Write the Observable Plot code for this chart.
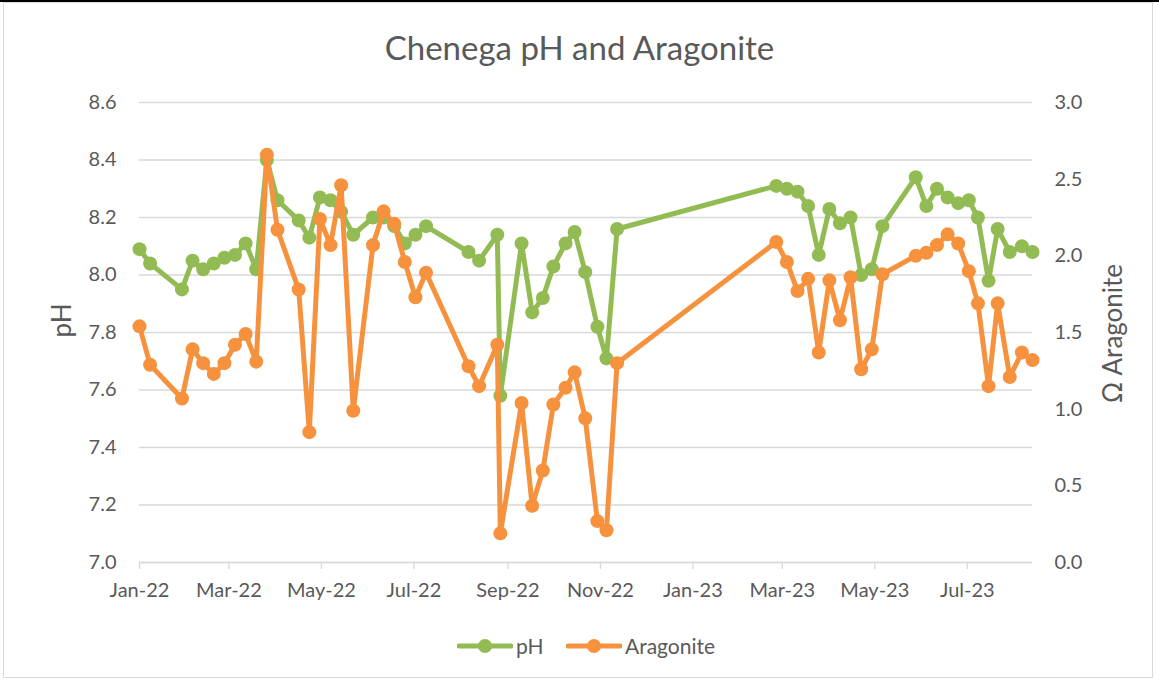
<!DOCTYPE html>
<html><head><meta charset="utf-8">
<script src="https://cdn.jsdelivr.net/npm/d3@7"></script>
<script src="https://cdn.jsdelivr.net/npm/@observablehq/plot@0.6"></script>
<style>
html,body{margin:0;padding:0;background:#fff;}
#frame{position:relative;width:1159px;height:683px;overflow:hidden;font-family:Lato,"Open Sans",sans-serif;color:#595959;}
#topline{position:absolute;left:0;top:0;width:1159px;height:2px;background:#000;}
#border{position:absolute;left:3px;top:2px;width:1150px;height:676px;border:1px solid #d9d9d9;box-sizing:border-box;pointer-events:none;}
#title{position:absolute;left:0;top:0;width:1159px;height:80px;box-sizing:border-box;padding-top:30px;text-align:center;font-size:33px;line-height:34px;color:#595959;}
#chart{position:absolute;left:0;top:80px;}
#legend{position:absolute;left:0;top:620px;width:1159px;height:63px;font-size:21px;}
.lg{position:absolute;top:13px;height:26px;line-height:26px;}
</style>
</head><body>
<div id="frame">
  <div id="topline"></div>
  <div id="border"></div>
  <div id="title">Chenega pH and Aragonite</div>
  <div id="chart"></div>
  <div id="legend"></div>
</div>
<script>
const dates = ["2022-01-01","2022-01-08","2022-01-29","2022-02-05","2022-02-12","2022-02-19","2022-02-26","2022-03-05","2022-03-12","2022-03-19",
"2022-03-26","2022-04-02","2022-04-16","2022-04-23","2022-04-30","2022-05-07","2022-05-14","2022-05-22","2022-06-04","2022-06-11",
"2022-06-18","2022-06-25","2022-07-02","2022-07-09","2022-08-06","2022-08-13","2022-08-25","2022-08-27","2022-09-10","2022-09-17",
"2022-09-24","2022-10-01","2022-10-09","2022-10-15","2022-10-22","2022-10-30","2022-11-05","2022-11-12","2023-02-25","2023-03-04",
"2023-03-11","2023-03-18","2023-03-25","2023-04-01","2023-04-08","2023-04-15","2023-04-22","2023-04-29","2023-05-06","2023-05-28",
"2023-06-04","2023-06-11","2023-06-18","2023-06-25","2023-07-02","2023-07-08","2023-07-15","2023-07-21","2023-07-29","2023-08-06","2023-08-13"];
const pH = [8.09,8.04,7.95,8.05,8.02,8.04,8.06,8.07,8.11,8.02,
8.40,8.26,8.19,8.13,8.27,8.26,8.22,8.14,8.20,8.20,
8.17,8.11,8.14,8.17,8.08,8.05,8.14,7.58,8.11,7.87,
7.92,8.03,8.11,8.15,8.01,7.82,7.71,8.16,8.31,8.30,
8.29,8.24,8.07,8.23,8.18,8.20,8.00,8.02,8.17,8.34,
8.24,8.30,8.27,8.25,8.26,8.20,7.98,8.16,8.08,8.10,8.08];
const aragonite = [1.54,1.29,1.07,1.39,1.30,1.23,1.30,1.42,1.49,1.31,
2.66,2.17,1.78,0.85,2.24,2.07,2.46,0.99,2.07,2.29,
2.21,1.96,1.73,1.89,1.28,1.15,1.42,0.19,1.04,0.37,
0.60,1.03,1.14,1.24,0.94,0.27,0.21,1.30,2.09,1.96,
1.77,1.85,1.37,1.84,1.58,1.86,1.26,1.39,1.88,2.00,
2.02,2.07,2.14,2.08,1.90,1.69,1.15,1.69,1.21,1.37,1.32];
const pHTicks = [7.0,7.2,7.4,7.6,7.8,8.0,8.2,8.4,8.6];
const arTicks = [0.0,0.5,1.0,1.5,2.0,2.5,3.0];
const xTickLabels = ["Jan-22","Mar-22","May-22","Jul-22","Sep-22","Nov-22","Jan-23","Mar-23","May-23","Jul-23"];
const seriesNames = ["pH","Aragonite"];
const colors = {pH:"#92BC53", Aragonite:"#F6923E"};

const parse = d3.utcParse("%Y-%m-%d");
const xDomain = [parse("2022-01-01"), parse("2023-08-13")];
const xTicks = xTickLabels.map(s => d3.utcParse("%b-%y")(s));
const pHmin = 7.0, pHmax = 8.6, arMax = 3.0;
const arToY = a => pHmin + a * (pHmax - pHmin) / arMax;
const yToAr = y => (y - pHmin) * arMax / (pHmax - pHmin);

const data = dates.map((d,i) => ({date: parse(d), ph: pH[i], ar: aragonite[i]}));

const font = "Lato, 'Open Sans', sans-serif";
const chart = Plot.plot({
  width: 1159, height: 540,
  marginTop: 22, marginBottom: 58, marginLeft: 139, marginRight: 127,
  style: {fontFamily: font, fontSize: "20px", color: "#595959", background: "transparent", overflow: "visible"},
  x: {type: "utc", domain: xDomain},
  y: {domain: [pHmin, pHmax]},
  marks: [
    Plot.gridY(pHTicks, {stroke: "#d9d9d9", strokeOpacity: 1, strokeWidth: 1.3}),
    Plot.axisX({ticks: xTicks, tickFormat: d3.utcFormat("%b-%y"), tickSize: 7, tickPadding: 13, stroke: "#d9d9d9", strokeWidth: 1.3, strokeOpacity: 1, fill: "#595959", label: null}),
    Plot.ruleY([pHmin], {stroke: "#d9d9d9", strokeWidth: 1.3}),
    Plot.axisY({anchor: "left", ticks: pHTicks, tickFormat: d => d.toFixed(1), tickSize: 0, tickPadding: 23, fill: "#595959", label: null}),
    Plot.axisY({anchor: "right", ticks: arTicks.map(arToY), tickFormat: d => yToAr(d).toFixed(1), tickSize: 0, tickPadding: 22, fill: "#595959", textAnchor: "start", label: null}),
    Plot.text(["pH"], {frameAnchor: "left", dx: -77, dy: -12, rotate: -90, fontSize: 26, fill: "#595959", textAnchor: "middle", lineAnchor: "middle"}),
    Plot.text(["Ω Aragonite"], {frameAnchor: "right", dx: 81, dy: 1, rotate: -90, fontSize: 26, fill: "#595959", textAnchor: "middle", lineAnchor: "middle"}),
    Plot.line(data, {x: "date", y: "ph", stroke: colors.pH, strokeWidth: 5, curve: "linear"}),
    Plot.dot(data, {x: "date", y: "ph", r: 7, fill: colors.pH, stroke: "none"}),
    Plot.line(data, {x: "date", y: d => arToY(d.ar), stroke: colors.Aragonite, strokeWidth: 5, curve: "linear"}),
    Plot.dot(data, {x: "date", y: d => arToY(d.ar), r: 7, fill: colors.Aragonite, stroke: "none"})
  ]
});
document.getElementById("chart").appendChild(chart);

// legend
const legend = document.getElementById("legend");
const items = [{name: seriesNames[0], x: 457}, {name: seriesNames[1], x: 566}];
for (const it of items) {
  const sw = document.createElementNS("http://www.w3.org/2000/svg","svg");
  sw.setAttribute("width", 56); sw.setAttribute("height", 26);
  sw.style.position = "absolute"; sw.style.left = it.x + "px"; sw.style.top = "13px";
  sw.innerHTML = `<line x1="2" y1="13" x2="54" y2="13" stroke="${colors[it.name]}" stroke-width="5" stroke-linecap="round"/><circle cx="28" cy="13" r="7" fill="${colors[it.name]}"/>`;
  legend.appendChild(sw);
  const t = document.createElement("div");
  t.className = "lg"; t.style.left = (it.x + 59) + "px"; t.textContent = it.name;
  legend.appendChild(t);
}
</script>
</body></html>
